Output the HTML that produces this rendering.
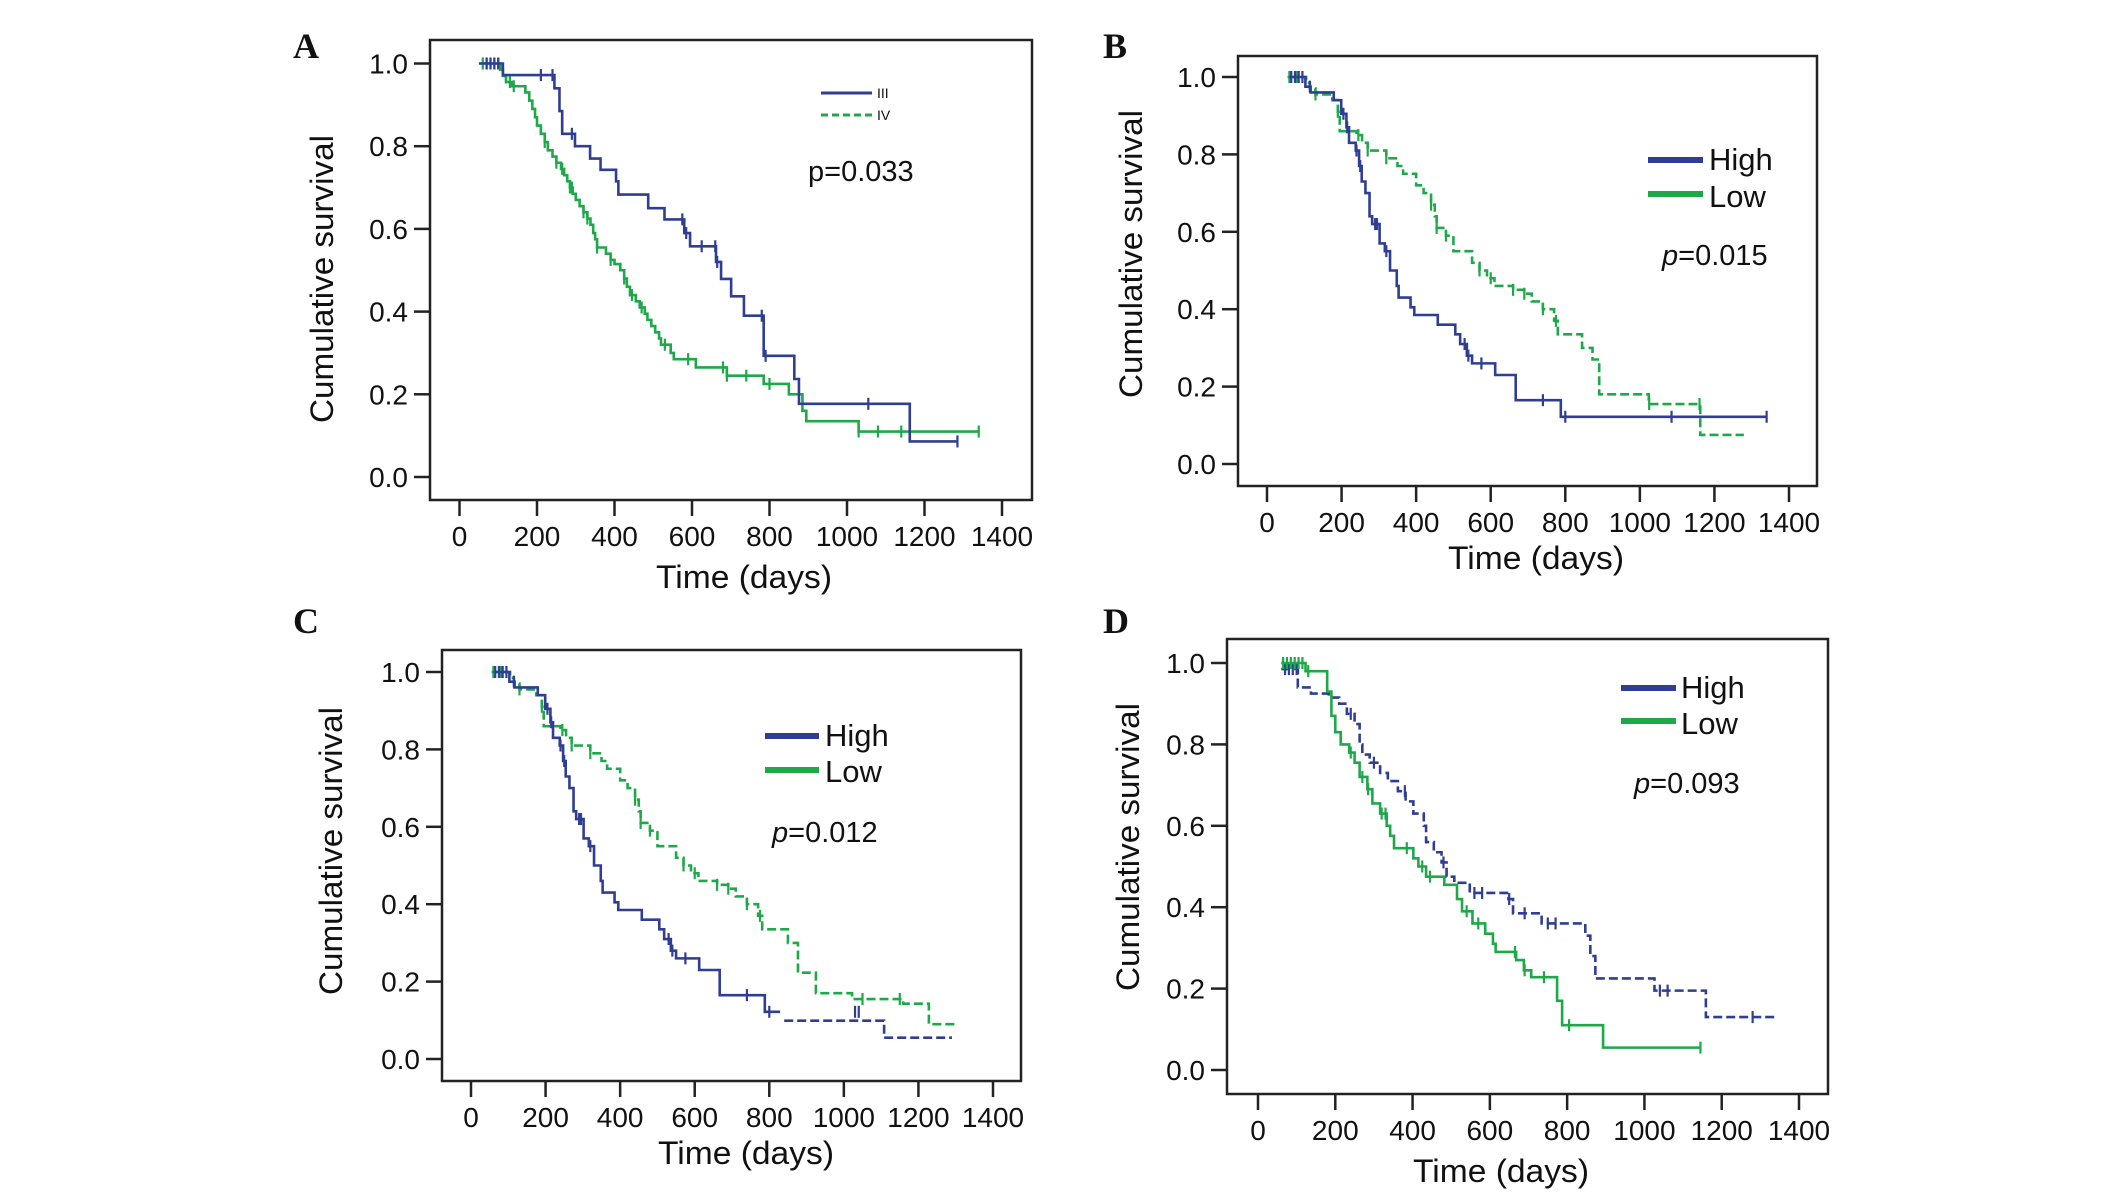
<!DOCTYPE html>
<html><head><meta charset="utf-8"><style>
html,body{margin:0;padding:0;background:#fff;}
svg{display:block;}
text{font-family:"Liberation Sans",Arial,sans-serif;fill:#111;}
.tick{font-family:"Liberation Sans Narrow","Liberation Sans",sans-serif;font-size:28px;}
.letter{font-family:"Liberation Serif",serif;font-weight:bold;font-size:36px;}
</style></head><body>
<svg id="fig" width="2126" height="1203" viewBox="0 0 2126 1203" xmlns="http://www.w3.org/2000/svg"></svg>
<script>
const xTicks=[0,200,400,600,800,1000,1200,1400];
const yTicks=[0.0,0.2,0.4,0.6,0.8,1.0];
const yTickLabels=["0.0","0.2","0.4","0.6","0.8","1.0"];
const panelLetters=["A","B","C","D"];
const pValues=["0.033","0.015","0.012","0.093"];

// Panel A
const aIIIt=[50,112,245,258,265,298,337,364,404,410,487,529,580,595,662,675,701,734,785,864,876,1162];
const aIIIs=[1,0.972,0.94,0.885,0.83,0.80,0.77,0.743,0.715,0.683,0.65,0.623,0.59,0.558,0.52,0.479,0.437,0.39,0.293,0.237,0.177,0.086];
const aIIIend=1285;
const aIIIcens=[70,80,90,100,210,240,290,575,585,625,660,665,780,790,1055,1285];
const aIVt=[55,105,112,120,135,170,180,188,195,200,210,220,228,240,250,262,270,278,285,292,300,310,320,330,338,345,350,355,378,390,400,415,425,432,440,455,465,478,485,495,505,515,520,545,553,610,690,785,850,885,895,1030];
const aIVs=[1,0.985,0.97,0.955,0.945,0.93,0.91,0.89,0.87,0.85,0.83,0.81,0.79,0.775,0.76,0.745,0.73,0.715,0.70,0.685,0.67,0.655,0.64,0.625,0.61,0.59,0.575,0.555,0.54,0.525,0.515,0.50,0.48,0.46,0.44,0.425,0.41,0.395,0.38,0.365,0.35,0.335,0.32,0.30,0.285,0.265,0.245,0.225,0.20,0.16,0.135,0.11];
const aIVend=1340;
const aIVcens=[60,70,80,90,100,130,140,220,250,265,285,290,320,330,355,390,425,445,470,530,590,680,690,740,800,1030,1080,1140,1340];

// Panel B
const bHighT=[60,103,117,179,199,213,220,238,247,254,264,275,282,302,316,330,348,353,385,395,458,505,518,536,550,612,667,788];
const bHighS=[1,0.975,0.96,0.94,0.905,0.87,0.83,0.81,0.77,0.73,0.70,0.64,0.62,0.57,0.55,0.50,0.46,0.43,0.405,0.385,0.36,0.335,0.31,0.28,0.26,0.23,0.165,0.122];
const bHighEnd=1340;
const bHighCens=[65,75,85,95,115,205,215,240,250,290,295,320,530,540,575,740,800,1085,1340];
const bLowT=[55,105,115,130,175,190,195,240,255,270,320,350,365,400,420,440,450,455,480,500,550,570,590,610,660,690,710,740,770,780,845,873,891,1024,1162];
const bLowS=[1,0.985,0.97,0.955,0.94,0.91,0.86,0.85,0.83,0.81,0.79,0.77,0.75,0.72,0.70,0.67,0.64,0.61,0.59,0.55,0.52,0.50,0.48,0.46,0.45,0.44,0.42,0.40,0.37,0.335,0.30,0.27,0.18,0.155,0.075];
const bLowEnd=1279;
const bLowCens=[60,80,130,190,245,270,320,440,455,480,570,600,660,690,740,775,1025,1160];

// Panel C
const cHighT=[60,103,117,179,199,213,220,238,247,254,264,275,282,302,316,330,348,353,385,395,458,505,518,536,550,612,667,788];
const cHighS=[1,0.975,0.96,0.94,0.905,0.87,0.83,0.81,0.77,0.73,0.70,0.64,0.62,0.57,0.55,0.50,0.46,0.43,0.405,0.385,0.36,0.335,0.31,0.28,0.26,0.23,0.165,0.122];
const cHighEnd=829;
const cHighTailT=[840,1108];
const cHighTailS=[0.099,0.055];
const cHighTailEnd=1290;
const cHighCens=[65,75,85,95,115,205,215,240,250,290,295,320,530,540,575,740,800,1030,1040];
const cLowT=[55,105,115,130,175,190,195,240,255,270,320,350,365,400,420,440,450,455,480,500,550,570,590,610,660,690,710,740,770,781,850,877,925,1022,1159,1228];
const cLowS=[1,0.985,0.97,0.955,0.94,0.91,0.86,0.85,0.83,0.81,0.79,0.77,0.75,0.72,0.70,0.67,0.64,0.61,0.59,0.55,0.52,0.50,0.48,0.46,0.45,0.44,0.42,0.40,0.37,0.335,0.30,0.223,0.17,0.155,0.143,0.09];
const cLowEnd=1306;
const cLowCens=[60,80,130,190,245,270,320,440,455,480,570,600,660,690,740,775,1050,1150];

// Panel D
const dHighT=[60,103,137,183,210,230,250,263,270,289,316,336,362,382,402,429,435,455,475,488,508,548,648,660,734,847,860,873,1026,1159];
const dHighS=[0.985,0.94,0.925,0.915,0.90,0.875,0.85,0.80,0.775,0.755,0.73,0.71,0.685,0.66,0.63,0.60,0.56,0.535,0.51,0.475,0.46,0.435,0.42,0.385,0.36,0.33,0.28,0.225,0.195,0.13];
const dHighEnd=1338;
const dHighCens=[70,80,90,100,240,300,380,480,560,580,650,690,750,770,1040,1060,1280];
const dLowT=[60,123,179,190,200,214,236,250,263,283,296,316,333,342,352,402,415,435,482,515,528,555,588,608,615,668,688,707,774,787,893];
const dLowS=[1,0.98,0.93,0.87,0.83,0.80,0.78,0.755,0.72,0.69,0.655,0.63,0.60,0.575,0.545,0.52,0.50,0.475,0.455,0.42,0.39,0.36,0.335,0.31,0.29,0.27,0.245,0.228,0.17,0.11,0.055];
const dLowEnd=1145;
const dLowCens=[65,75,85,95,105,115,130,240,270,285,320,330,385,425,445,540,570,665,690,740,805,1145];

const BLUE="#2f3e93", GREEN="#1fa84a";
const NS="http://www.w3.org/2000/svg";
const svg=document.getElementById('fig');
function el(tag,attrs,parent,txt){const e=document.createElementNS(NS,tag);for(const k in attrs)e.setAttribute(k,attrs[k]);if(txt!==undefined)e.textContent=txt;(parent||svg).appendChild(e);return e;}

const panels=[
 {frame:[430,40,1032,500],x0:459.5,x1:1002,y1:63.5,y0:477,letter:[293,58],ytitle:[322,279,288],xtitle:[744,588],p:[808,181],pItalic:false,
  legend:{type:"small",lines:[[821,872,93],[821,872,115]],labels:["III","IV"],tx:877},
  series:[{t:aIVt,s:aIVs,end:aIVend,c:aIVcens,color:GREEN,dash:null,name:"stage-iv"},{t:aIIIt,s:aIIIs,end:aIIIend,c:aIIIcens,color:BLUE,dash:null,name:"stage-iii"}]},
 {frame:[1238,56,1817,486],x0:1267,x1:1789,y1:77,y0:464,letter:[1103,58],ytitle:[1131,254,288],xtitle:[1536,569],p:[1662,265],pItalic:true,
  legend:{type:"big",lines:[[1648,1703,160],[1648,1703,194]],labels:["High","Low"],tx:1709,ty:[170,207]},
  series:[{t:bLowT,s:bLowS,end:bLowEnd,c:bLowCens,color:GREEN,dash:"9 4",name:"low"},{t:bHighT,s:bHighS,end:bHighEnd,c:bHighCens,color:BLUE,dash:null,name:"high"}]},
 {frame:[442,650,1021,1081],x0:471,x1:993,y1:672,y0:1059,letter:[293,633],ytitle:[331,851,288],xtitle:[746,1164],p:[772,842],pItalic:true,
  legend:{type:"big",lines:[[765,819,736],[765,819,770]],labels:["High","Low"],tx:825,ty:[746,782]},
  series:[{t:cLowT,s:cLowS,end:cLowEnd,c:cLowCens,color:GREEN,dash:"9 4",name:"low"},{t:cHighT,s:cHighS,end:cHighEnd,c:cHighCens,color:BLUE,dash:null,name:"high"},{t:cHighTailT,s:cHighTailS,end:cHighTailEnd,c:[],color:BLUE,dash:"9 4",name:"high-tail"}]},
 {frame:[1227,639,1828,1094],x0:1258,x1:1799,y1:663,y0:1070,letter:[1103,633],ytitle:[1128,847,288],xtitle:[1501,1182],p:[1634,793],pItalic:true,
  legend:{type:"big",lines:[[1621,1676,688],[1621,1676,721]],labels:["High","Low"],tx:1681,ty:[698,734]},
  series:[{t:dHighT,s:dHighS,end:dHighEnd,c:dHighCens,color:BLUE,dash:"9 4",name:"high"},{t:dLowT,s:dLowS,end:dLowEnd,c:dLowCens,color:GREEN,dash:null,name:"low"}]}
];

panels.forEach((P,pi)=>{
  const g=el('g',{});
  
  
  const X=t=>P.x0+(t/1400)*(P.x1-P.x0);
  const Y=s=>P.y0-s*(P.y0-P.y1);
  const [fl,ft,fr,fb]=P.frame;
  const fr_=el('rect',{x:fl,y:ft,width:fr-fl,height:fb-ft,fill:'none',stroke:'#222','stroke-width':2.5},g);
  
  
  const lt=el('text',{x:P.letter[0],y:P.letter[1],class:'letter'},g,panelLetters[pi]);
  
  
  yTicks.forEach((v,i)=>{
    el('line',{x1:fl-16,x2:fl,y1:Y(v),y2:Y(v),stroke:'#222','stroke-width':2.5},g);
    const t=el('text',{x:fl-22,y:Y(v)+10,'text-anchor':'end',class:'tick'},g,yTickLabels[i]);
    
    
  });
  xTicks.forEach(v=>{
    el('line',{x1:X(v),x2:X(v),y1:fb,y2:fb+16,stroke:'#222','stroke-width':2.5},g);
    const t=el('text',{x:X(v),y:fb+46,'text-anchor':'middle',class:'tick'},g,String(v));
    
    
  });
  const yt=el('text',{x:0,y:0,'text-anchor':'middle','font-size':32,transform:`translate(${P.ytitle[0]+11},${P.ytitle[1]}) rotate(-90)`,textLength:P.ytitle[2],lengthAdjust:'spacingAndGlyphs'},g,'Cumulative survival');
  
  
  const xt=el('text',{x:P.xtitle[0],y:P.xtitle[1],'text-anchor':'middle','font-size':32,textLength:176,lengthAdjust:'spacingAndGlyphs'},g,'Time (days)');
  
  
  const pt=el('text',{x:P.p[0],y:P.p[1],'font-size':29},g);
  
  
  el('tspan',{'font-style':P.pItalic?'italic':'normal'},pt,'p');
  el('tspan',{},pt,'='+pValues[pi]);
  // legend
  const L=P.legend;
  const cols=pi===0?[BLUE,GREEN]:[BLUE,GREEN];
  L.lines.forEach((ln,i)=>{
    const lg=el('g',{},g);
    
    
    el('line',{x1:ln[0],x2:ln[1],y1:ln[2],y2:ln[2],stroke:cols[i],'stroke-width':L.type==='big'?6:3,'stroke-dasharray':(pi===0&&i===1)?'7 4':'none'},lg);
    if(L.type==='big') el('text',{x:L.tx,y:L.ty[i],'font-size':31},lg,L.labels[i]);
    else el('text',{x:L.tx,y:ln[2]+5,'font-size':14,'font-family':'Liberation Serif, serif'},lg,L.labels[i]);
  });
  // series
  P.series.forEach(S=>{
    let d=`M${X(S.t[0])},${Y(S.s[0])}`;
    for(let i=1;i<S.t.length;i++){d+=` H${X(S.t[i])} V${Y(S.s[i])}`;}
    d+=` H${X(S.end)}`;
    const path=el('path',{d:d,fill:'none',stroke:S.color,'stroke-width':2.6,'stroke-dasharray':S.dash||'none'},g);
    
    
    S.c.forEach(ct=>{
      let lv=S.s[0];
      for(let i=0;i<S.t.length;i++){if(S.t[i]<=ct)lv=S.s[i];}
      const m=el('line',{x1:X(ct),x2:X(ct),y1:Y(lv)-6,y2:Y(lv)+6,stroke:S.color,'stroke-width':2.2},g);
      
      
    });
  });
});
</script>
</body></html>
